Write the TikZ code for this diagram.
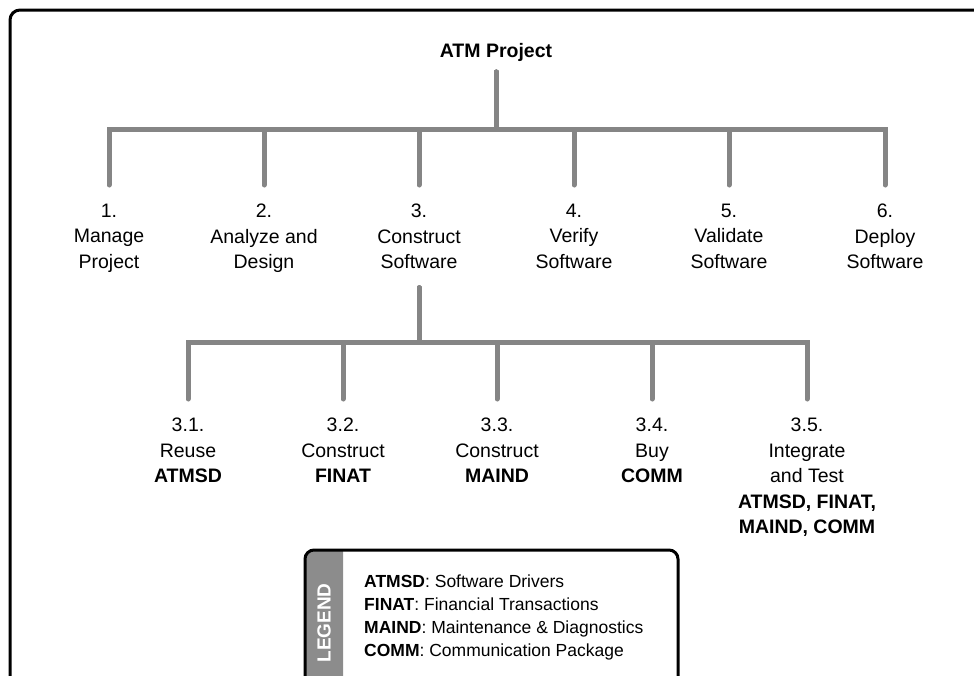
\documentclass[tikz,border=0pt]{standalone}
\usepackage{fontspec}
\setmainfont{Liberation Sans}
\usepackage{xcolor}
\definecolor{clBranch}{HTML}{858585}
\definecolor{clBand}{HTML}{8C8C8C}
\usepackage{tikz}
\usetikzlibrary{positioning}
\tikzset{
  branch/.style={line width=5pt, draw=clBranch, line cap=round},
  wbs/.style={align=center, inner sep=0pt, outer ysep=19pt, anchor=north,
              font=\fontsize{19.5}{25.5}\selectfont},
  root/.style={inner sep=0pt, outer ysep=11pt, anchor=base,
               font=\bfseries\fontsize{19.5}{25.5}\selectfont},
  frame/.style={line width=3pt, draw=black, rounded corners=10pt},
  legendtag/.style={rotate=90, text=white, inner sep=0pt,
                    font=\bfseries\fontsize{19}{19}\selectfont},
  legendtext/.style={anchor=north west, align=left, inner sep=0pt,
                     font=\fontsize{17.5}{23}\selectfont},
}

\begin{document}
\begin{tikzpicture}[x=1pt, y=-1pt]
  \useasboundingbox (0,0) rectangle (974,675);
  \clip (0,0) rectangle (974,675);
  \draw[frame] (10,700) -- (10,10) -- (1000,10);

  % project and first level
  \node[root] (atm) at (496,57) {ATM Project};
  \node[wbs] (m1) at (109,185) {1.\\Manage\\Project};
  \node[wbs] (m2) at (264,185) {2.\\Analyze and\\Design};
  \node[wbs] (m3) at (419,185) {3.\\Construct\\Software};
  \node[wbs] (m4) at (574,185) {4.\\Verify\\Software};
  \node[wbs] (m5) at (729,185) {5.\\Validate\\Software};
  \node[wbs] (m6) at (885,185) {6.\\Deploy\\Software};
  \draw[branch] (atm.south) -- ++(0,57) -| (m1.north); \draw[branch] (atm.south) -- ++(0,57) -| (m2.north);
  \draw[branch] (atm.south) -- ++(0,57) -| (m3.north); \draw[branch] (atm.south) -- ++(0,57) -| (m4.north);
  \draw[branch] (atm.south) -- ++(0,57) -| (m5.north); \draw[branch] (atm.south) -- ++(0,57) -| (m6.north);

  % second level under 3
  \node[wbs] (s1) at (188,399) {3.1.\\Reuse\\\textbf{ATMSD}};
  \node[wbs] (s2) at (343,399) {3.2.\\Construct\\\textbf{FINAT}};
  \node[wbs] (s3) at (497,399) {3.3.\\Construct\\\textbf{MAIND}};
  \node[wbs] (s4) at (652,399) {3.4.\\Buy\\\textbf{COMM}};
  \node[wbs] (s5) at (807,399) {3.5.\\Integrate\\and Test\\\textbf{ATMSD, FINAT,}\\\textbf{MAIND, COMM}};
  \draw[branch] (m3.south) -- ++(0,55) -| (s1.north); \draw[branch] (m3.south) -- ++(0,55) -| (s2.north);
  \draw[branch] (m3.south) -- ++(0,55) -| (s3.north); \draw[branch] (m3.south) -- ++(0,55) -| (s4.north);
  \draw[branch] (m3.south) -- ++(0,55) -| (s5.north);

  % legend
  \fill[clBand] (305,700) -- (305,559) arc[start angle=180, end angle=270, radius=9] -- (343,550) -- (343,700) -- cycle;
  \draw[line width=3pt, rounded corners=9pt] (305,700) -- (305,550) -- (678,550) -- (678,700);
  \node[legendtag] (tag) at (324,623) {LEGEND};
  \node[legendtext] (legend) at (364,575) {\textbf{ATMSD}: Software Drivers\\
    \textbf{FINAT}: Financial Transactions\\
    \textbf{MAIND}: Maintenance \& Diagnostics\\
    \textbf{COMM}: Communication Package};
\end{tikzpicture}
\end{document}
